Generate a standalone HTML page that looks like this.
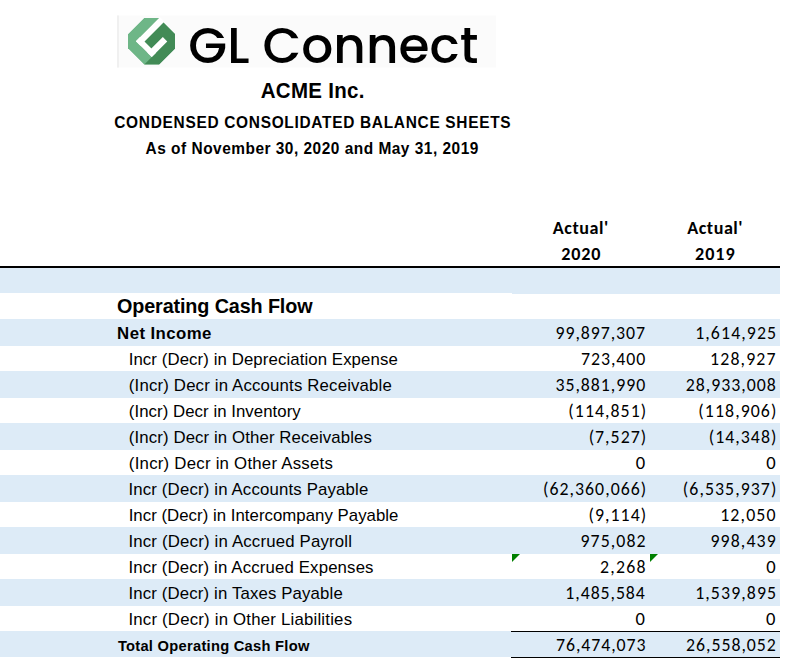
<!DOCTYPE html>
<html><head><meta charset="utf-8"><title>GL Connect - ACME Inc. Condensed Consolidated Balance Sheets</title>
<style>
html,body{margin:0;padding:0;background:#fff;}
body{width:788px;height:666px;overflow:hidden;}
svg{display:block;}
.ar{font-family:"Liberation Sans",Arial,sans-serif;}
.ca{font-family:Carlito,Calibri,"Liberation Sans",sans-serif;}
.pp{font-family:Poppins,"Liberation Sans",sans-serif;}
text{fill:#000;}
</style></head><body>
<svg width="788" height="666" viewBox="0 0 788 666">
<rect x="0" y="268" width="512" height="25" fill="#DDEBF7"/>
<rect x="512" y="268" width="268" height="26" fill="#DDEBF7"/>
<rect x="0" y="319" width="780" height="27" fill="#DDEBF7"/>
<rect x="0" y="371" width="780" height="27" fill="#DDEBF7"/>
<rect x="0" y="423" width="780" height="27" fill="#DDEBF7"/>
<rect x="0" y="475" width="780" height="27" fill="#DDEBF7"/>
<rect x="0" y="527" width="780" height="27" fill="#DDEBF7"/>
<rect x="0" y="579" width="780" height="27" fill="#DDEBF7"/>
<rect x="0" y="631" width="780" height="26" fill="#DDEBF7"/>
<rect x="0" y="266" width="780" height="2" fill="#000"/>
<rect x="511" y="631" width="269" height="1" fill="#000"/>
<rect x="511" y="657" width="269" height="1" fill="#000"/>
<polygon points="512,554 520,554 512,562" fill="#008000"/>
<polygon points="650,554 658,554 650,562" fill="#008000"/>
<rect x="117" y="15.5" width="379" height="52" fill="#FBFBFB"/>
<rect x="117" y="15.5" width="2" height="52" fill="#F0F0F0"/>
<defs><clipPath id="oc"><polygon points="144,18 159,18 175,34 175,48.5 159,64.5 144,64.5 128,48.5 128,34"/></clipPath><clipPath id="oc2"><polygon points="143.5,16.8 159.5,16.8 176.2,33.5 176.2,49 159.5,65.7 143.5,65.7 126.8,49 126.8,33.5"/></clipPath></defs>
<g clip-path="url(#oc)">
<polygon points="144,18 159,18 175,34 175,48.5 159,64.5 144,64.5 128,48.5 128,34" fill="#6EB687"/>
<polygon points="135.85,41.15 288.50,-111.50 400.00,0.00 247.35,152.65" fill="#428B56"/>
<polygon points="-95.60,304.40 304.40,-95.60 550.00,150.00 150.00,550.00" fill="#428B56"/>
</g>
<g clip-path="url(#oc2)">
<polygon points="135.85,41.15 288.50,-111.50 293.00,-107.00 140.35,45.65" fill="#FFFFFF"/>
<polygon points="135.85,41.15 151.75,57.05 155.90,52.90 140.00,37.00" fill="#FFFFFF"/>
<polygon points="147.30,52.60 151.75,57.05 167.25,41.55 162.80,37.10" fill="#FFFFFF"/>
</g>
<text class="pp" x="188.36" y="62.50" font-size="49.3" font-weight="500" textLength="289.98" lengthAdjust="spacingAndGlyphs">GL Connect</text>
<text class="ar" transform="scale(0.95,1)" x="329.06" y="97.80" font-size="21.6" font-weight="bold" text-anchor="middle" textLength="109.22" lengthAdjust="spacing">ACME Inc.</text>
<text class="ar" transform="scale(0.99,1)" x="315.62" y="127.90" font-size="15.6" font-weight="bold" text-anchor="middle" textLength="400.40" lengthAdjust="spacing">CONDENSED CONSOLIDATED BALANCE SHEETS</text>
<text class="ar" transform="scale(0.99,1)" x="315.12" y="154.00" font-size="15.6" font-weight="bold" text-anchor="middle" textLength="336.09" lengthAdjust="spacing">As of November 30, 2020 and May 31, 2019</text>
<text class="ca" transform="scale(0.98,1)" x="592.35" y="233.90" font-size="18.5" font-weight="bold" text-anchor="middle" textLength="56.39" lengthAdjust="spacing">Actual'</text>
<text class="ca" transform="scale(0.98,1)" x="592.69" y="259.70" font-size="18.5" font-weight="bold" text-anchor="middle" textLength="40.00" lengthAdjust="spacing">2020</text>
<text class="ca" transform="scale(0.98,1)" x="729.52" y="233.90" font-size="18.5" font-weight="bold" text-anchor="middle" textLength="56.45" lengthAdjust="spacing">Actual'</text>
<text class="ca" transform="scale(0.98,1)" x="729.45" y="259.70" font-size="18.5" font-weight="bold" text-anchor="middle" textLength="40.50" lengthAdjust="spacing">2019</text>
<text class="ar" x="117.02" y="313.00" font-size="19.8" font-weight="bold" textLength="195.52" lengthAdjust="spacing">Operating Cash Flow</text>
<text class="ar" transform="scale(1.05,1)" x="111.51" y="338.70" font-size="16" font-weight="bold" textLength="89.86" lengthAdjust="spacing">Net Income</text>
<text class="ar" transform="scale(1.05,1)" x="122.53" y="364.90" font-size="16" font-weight="normal" textLength="256.27" lengthAdjust="spacing">Incr (Decr) in Depreciation Expense</text>
<text class="ar" transform="scale(1.05,1)" x="122.70" y="390.90" font-size="16" font-weight="normal" textLength="250.52" lengthAdjust="spacing">(Incr) Decr in Accounts Receivable</text>
<text class="ar" transform="scale(1.05,1)" x="122.70" y="416.90" font-size="16" font-weight="normal" textLength="163.71" lengthAdjust="spacing">(Incr) Decr in Inventory</text>
<text class="ar" transform="scale(1.05,1)" x="122.70" y="442.90" font-size="16" font-weight="normal" textLength="231.47" lengthAdjust="spacing">(Incr) Decr in Other Receivables</text>
<text class="ar" transform="scale(1.05,1)" x="122.69" y="468.90" font-size="16" font-weight="normal" textLength="194.30" lengthAdjust="spacing">(Incr) Decr in Other Assets</text>
<text class="ar" transform="scale(1.05,1)" x="122.33" y="494.90" font-size="16" font-weight="normal" textLength="228.38" lengthAdjust="spacing">Incr (Decr) in Accounts Payable</text>
<text class="ar" transform="scale(1.05,1)" x="122.54" y="520.90" font-size="16" font-weight="normal" textLength="256.95" lengthAdjust="spacing">Incr (Decr) in Intercompany Payable</text>
<text class="ar" transform="scale(1.05,1)" x="122.32" y="546.90" font-size="16" font-weight="normal" textLength="212.90" lengthAdjust="spacing">Incr (Decr) in Accrued Payroll</text>
<text class="ar" transform="scale(1.05,1)" x="122.32" y="572.90" font-size="16" font-weight="normal" textLength="233.42" lengthAdjust="spacing">Incr (Decr) in Accrued Expenses</text>
<text class="ar" transform="scale(1.05,1)" x="122.33" y="598.90" font-size="16" font-weight="normal" textLength="204.12" lengthAdjust="spacing">Incr (Decr) in Taxes Payable</text>
<text class="ar" transform="scale(1.05,1)" x="122.31" y="624.90" font-size="16" font-weight="normal" textLength="212.98" lengthAdjust="spacing">Incr (Decr) in Other Liabilities</text>
<text class="ar" transform="scale(1.05,1)" x="112.28" y="650.80" font-size="14.0" font-weight="bold" textLength="182.32" lengthAdjust="spacing">Total Operating Cash Flow</text>
<text class="ca" transform="scale(0.98,1)" x="658.23" y="339.00" font-size="18.2" font-weight="normal" text-anchor="end" textLength="91.38" lengthAdjust="spacing">99,897,307</text>
<text class="ca" transform="scale(0.98,1)" x="792.00" y="339.00" font-size="18.2" font-weight="normal" text-anchor="end" textLength="82.64" lengthAdjust="spacing">1,614,925</text>
<text class="ca" transform="scale(0.98,1)" x="658.36" y="365.00" font-size="18.2" font-weight="normal" text-anchor="end" textLength="65.37" lengthAdjust="spacing">723,400</text>
<text class="ca" transform="scale(0.98,1)" x="791.39" y="365.00" font-size="18.2" font-weight="normal" text-anchor="end" textLength="66.78" lengthAdjust="spacing">128,927</text>
<text class="ca" transform="scale(0.98,1)" x="658.36" y="391.00" font-size="18.2" font-weight="normal" text-anchor="end" textLength="91.57" lengthAdjust="spacing">35,881,990</text>
<text class="ca" transform="scale(0.98,1)" x="791.67" y="391.00" font-size="18.2" font-weight="normal" text-anchor="end" textLength="91.89" lengthAdjust="spacing">28,933,008</text>
<text class="ca" transform="scale(0.98,1)" x="659.36" y="417.00" font-size="18.2" font-weight="normal" text-anchor="end" textLength="79.39" lengthAdjust="spacing">(114,851)</text>
<text class="ca" transform="scale(0.98,1)" x="792.22" y="417.00" font-size="18.2" font-weight="normal" text-anchor="end" textLength="79.61" lengthAdjust="spacing">(118,906)</text>
<text class="ca" transform="scale(0.98,1)" x="659.37" y="443.00" font-size="18.2" font-weight="normal" text-anchor="end" textLength="58.72" lengthAdjust="spacing">(7,527)</text>
<text class="ca" transform="scale(0.98,1)" x="792.22" y="443.00" font-size="18.2" font-weight="normal" text-anchor="end" textLength="69.06" lengthAdjust="spacing">(14,348)</text>
<text class="ca" transform="scale(1.02,1)" x="632.43" y="469.00" font-size="18.2" font-weight="normal" text-anchor="end">0</text>
<text class="ca" transform="scale(1.02,1)" x="760.35" y="469.00" font-size="18.2" font-weight="normal" text-anchor="end">0</text>
<text class="ca" transform="scale(0.98,1)" x="659.36" y="495.00" font-size="18.2" font-weight="normal" text-anchor="end" textLength="105.22" lengthAdjust="spacing">(62,360,066)</text>
<text class="ca" transform="scale(0.98,1)" x="792.23" y="495.00" font-size="18.2" font-weight="normal" text-anchor="end" textLength="95.43" lengthAdjust="spacing">(6,535,937)</text>
<text class="ca" transform="scale(0.98,1)" x="659.38" y="521.00" font-size="18.2" font-weight="normal" text-anchor="end" textLength="58.88" lengthAdjust="spacing">(9,114)</text>
<text class="ca" transform="scale(0.98,1)" x="791.38" y="521.00" font-size="18.2" font-weight="normal" text-anchor="end" textLength="56.53" lengthAdjust="spacing">12,050</text>
<text class="ca" transform="scale(0.98,1)" x="658.80" y="547.00" font-size="18.2" font-weight="normal" text-anchor="end" textLength="66.48" lengthAdjust="spacing">975,082</text>
<text class="ca" transform="scale(0.98,1)" x="791.52" y="547.00" font-size="18.2" font-weight="normal" text-anchor="end" textLength="66.54" lengthAdjust="spacing">998,439</text>
<text class="ca" transform="scale(0.98,1)" x="658.80" y="573.00" font-size="18.2" font-weight="normal" text-anchor="end" textLength="46.63" lengthAdjust="spacing">2,268</text>
<text class="ca" transform="scale(1.02,1)" x="760.35" y="573.00" font-size="18.2" font-weight="normal" text-anchor="end">0</text>
<text class="ca" transform="scale(0.98,1)" x="657.99" y="599.00" font-size="18.2" font-weight="normal" text-anchor="end" textLength="81.07" lengthAdjust="spacing">1,485,584</text>
<text class="ca" transform="scale(0.98,1)" x="792.00" y="599.00" font-size="18.2" font-weight="normal" text-anchor="end" textLength="82.64" lengthAdjust="spacing">1,539,895</text>
<text class="ca" transform="scale(1.02,1)" x="632.39" y="625.00" font-size="18.2" font-weight="normal" text-anchor="end">0</text>
<text class="ca" transform="scale(1.02,1)" x="760.28" y="625.00" font-size="18.2" font-weight="normal" text-anchor="end">0</text>
<text class="ca" transform="scale(0.98,1)" x="658.60" y="651.00" font-size="18.2" font-weight="normal" text-anchor="end" textLength="91.20" lengthAdjust="spacing">76,474,073</text>
<text class="ca" transform="scale(0.98,1)" x="791.73" y="651.00" font-size="18.2" font-weight="normal" text-anchor="end" textLength="91.66" lengthAdjust="spacing">26,558,052</text>
</svg>
</body></html>
